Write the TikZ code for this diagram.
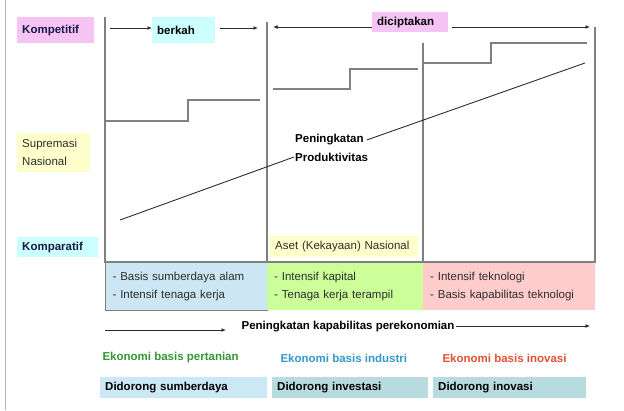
\documentclass[tikz,border=0pt]{standalone}
\usepackage{fontspec}
\setmainfont{Liberation Sans}
\usetikzlibrary{arrows.meta, positioning}
\definecolor{tagpink}{RGB}{245,196,245}
\definecolor{tagcyan}{RGB}{204,255,255}
\definecolor{tagyellow}{RGB}{255,255,204}
\definecolor{basisblue}{RGB}{204,230,243}
\definecolor{basisgreen}{RGB}{204,255,153}
\definecolor{basispink}{RGB}{255,204,204}
\definecolor{drivenblue}{RGB}{204,232,245}
\definecolor{driventeal}{RGB}{184,219,224}
\definecolor{frameline}{RGB}{128,128,128}
\definecolor{inkdark}{RGB}{45,45,45}
\definecolor{navytext}{RGB}{25,25,70}
\definecolor{ecogreen}{RGB}{51,150,51}
\definecolor{ecoblue}{RGB}{51,153,204}
\definecolor{ecored}{RGB}{226,82,50}

\tikzset{
  tag/.style 2 args={anchor=north west, text width=#1, minimum height=#2, inner xsep=5pt, inner ysep=0pt, align=left},
  basis/.style={anchor=north west, text width=#1, minimum height=48pt, inner xsep=7pt, inner ysep=0pt, align=left, text=inkdark},
  frame/.style={draw=frameline, line width=1.4pt},
  stair/.style={draw=frameline, line width=1.4pt},
  trend/.style={draw=inkdark, line width=0.9pt},
  arr/.style={draw=inkdark, line width=0.9pt, -{Latex[length=4.5pt, width=4pt]}},
  eco/.style={anchor=west, font=\bfseries\fontsize{11.5}{14}\selectfont}
}

\begin{document}
\begin{tikzpicture}[x=1pt, y=-1pt, font=\fontsize{11.5}{18}\selectfont]
  \useasboundingbox (0,0) rectangle (624,410);
  % slide edge
  \draw[draw=frameline!60, line width=1pt] (5,0) -- (5,410);

  % labels on the left
  \node[tag={67pt}{26pt}, fill=tagpink, text=navytext, font=\bfseries\fontsize{11.5}{14}\selectfont] (komp) at (17,17) {Kompetitif};
  \node[tag={63pt}{39pt}, fill=tagyellow, text=inkdark] (supr) at (17,133) {Supremasi\\Nasional};
  \node[tag={71pt}{20pt}, fill=tagcyan, text=navytext, font=\bfseries\fontsize{11.5}{14}\selectfont] (kompa) at (17,237) {Komparatif};

  % basis boxes
  \node[basis=148pt, fill=basisblue, draw=frameline, line width=1.2pt] (basis1) at (105,262) {- Basis sumberdaya alam\\- Intensif tenaga kerja};
  \node[basis=142pt, fill=basisgreen] (basis2) at (267,262) {- Intensif kapital\\- Tenaga kerja terampil};
  \node[basis=158pt, fill=basispink] (basis3) at (423,262) {- Intensif teknologi\\- Basis kapabilitas teknologi};

  % frame of the stages
  \draw[frame] (105,17) -- (105,262) -- (595,262) -- (595,27);
  \draw[frame] (267,22) -- (267,262);
  \draw[frame] (423,43) -- (423,262);

  % steps
  \draw[stair] (105,121) -| (188,100) -- (260,100);
  \draw[stair] (273,89) -| (350,69) -- (418,69);
  \draw[stair] (423,63) -| (491,43) -- (587,43);

  % top labels and arrows
  \node[tag={53pt}{26pt}, fill=tagcyan, font=\bfseries\fontsize{11.5}{14}\selectfont] (berkah) at (152,17) {berkah};
  \node[tag={66pt}{20pt}, fill=tagpink, font=\bfseries\fontsize{11.5}{14}\selectfont] (cipta) at (372,12) {diciptakan};
  \coordinate (berkahL) at (110,28);
  \coordinate (berkahR) at (258,28);
  \coordinate (ciptaL) at (273,27);
  \coordinate (ciptaR) at (590,27);
  \draw[arr] (berkahL) -- (berkahL -| berkah.west);
  \draw[arr] ([xshift=5pt]berkahL -| berkah.east) -- (berkahR);
  \draw[arr] (ciptaL -| cipta.west) -- (ciptaL);
  \draw[arr] ([xshift=4pt]ciptaR -| cipta.east) -- (ciptaR);

  % productivity line
  \node[anchor=west, inner sep=1pt, font=\bfseries\fontsize{11.5}{14}\selectfont] (prodtop) at (294,140) {Peningkatan};
  \node[anchor=west, inner sep=1pt, font=\bfseries\fontsize{11.5}{14}\selectfont] (prodbot) at (294,157) {Produktivitas};
  \coordinate (trendlow) at (120,220);
  \coordinate (trendhigh) at (585,63);
  \draw[trend] (trendlow) -- (prodbot.west);
  \draw[trend] ([xshift=2pt]prodtop.east) -- (trendhigh);

  \node[tag={138pt}{21pt}, fill=tagyellow, text=inkdark] (aset) at (270,236) {Aset (Kekayaan) Nasional};

  % capability arrow
  \node[font=\bfseries\fontsize{11.5}{14}\selectfont, inner sep=1pt] (capab) at (348,327) {Peningkatan kapabilitas perekonomian};
  \coordinate (capL) at (105,330);
  \coordinate (capLend) at (226,330);
  \coordinate (capR) at (590,326);
  \draw[arr] (capL) -- (capLend);
  \draw[arr] (capab.east |- capR) -- (capR);

  % economy types
  \node[eco, text=ecogreen] (ekotani) at (99,358) {Ekonomi basis pertanian};
  \node[eco, text=ecoblue] (ekoind) at (277,358) {Ekonomi basis industri};
  \node[eco, text=ecored] (ekoino) at (439,358) {Ekonomi basis inovasi};

  % drivers
  \node[tag={157pt}{21pt}, fill=drivenblue, font=\bfseries\fontsize{11.5}{14}\selectfont] (drsda) at (100,377) {Didorong sumberdaya};
  \node[tag={146pt}{21pt}, fill=driventeal, font=\bfseries\fontsize{11.5}{14}\selectfont] (drinv) at (272,377) {Didorong investasi};
  \node[tag={143pt}{21pt}, fill=driventeal, font=\bfseries\fontsize{11.5}{14}\selectfont] (drino) at (433,377) {Didorong inovasi};
\end{tikzpicture}
\end{document}
